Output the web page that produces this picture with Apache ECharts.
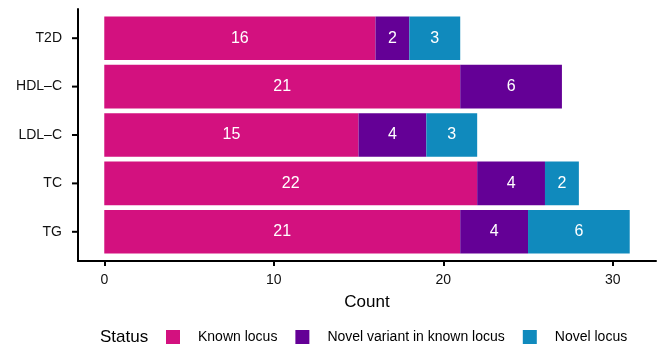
<!DOCTYPE html>
<html>
<head>
<meta charset="utf-8">
<script src="https://cdn.jsdelivr.net/npm/echarts@6/dist/echarts.min.js"></script>
<style>html,body{margin:0;padding:0;background:#fff}#c{width:659px;height:347px}</style>
</head>
<body>
<div id="c"></div>
<script>
var categories = ['T2D', 'HDL–C', 'LDL–C', 'TC', 'TG'];
var knownLocus = [16, 21, 15, 22, 21];
var novelVariant = [2, 6, 4, 4, 4];
var novelLocus = [3, 0, 3, 2, 6];
var xTicks = [0, 10, 20, 30];
var seriesNames = ['Known locus', 'Novel variant in known locus', 'Novel locus'];
var colors = ['#D3117F', '#640096', '#108ABD'];

var FONT = 'Liberation Sans';
var chart = echarts.init(document.getElementById('c'));

function mkSeries(name, data, color) {
  return {
    name: name, type: 'bar', stack: 'total', xAxisIndex: 0, yAxisIndex: 0,
    barCategoryGap: '10%',
    data: data,
    itemStyle: { color: color },
    label: {
      show: true, position: 'inside', color: '#fff', fontFamily: FONT, fontSize: 16,
      formatter: function (p) { return p.value ? String(p.value) : ''; }
    }
  };
}

chart.setOption({
  animation: false,
  color: colors,
  title: {
    text: 'Status', left: 100, top: 329, padding: 0,
    textStyle: { fontFamily: FONT, fontSize: 17, fontWeight: 'normal', color: '#000' }
  },
  legend: {
    left: 166, top: 330, padding: 0, itemWidth: 14, itemHeight: 14, itemGap: 18,
    icon: 'rect',
    data: seriesNames,
    textStyle: { fontFamily: FONT, fontSize: 14, color: '#000', padding: [0, 0, 0, 13] }
  },
  grid: [
    { left: 78, right: 3, top: 14, height: 242 },
    { left: 78, right: 3, top: 9, height: 252 },
    { left: 78, right: 3, top: 14, height: 242 }
  ],
  xAxis: [
    { gridIndex: 0, type: 'value', min: -1.55, max: 32.55, show: false },
    {
      gridIndex: 1, type: 'value', min: -1.55, max: 32.55,
      name: 'Count', nameLocation: 'middle', nameGap: 33,
      nameTextStyle: { fontFamily: FONT, fontSize: 17, color: '#000' },
      axisLine: { show: true, onZero: false, lineStyle: { color: '#000', width: 2 } },
      axisTick: { show: true, length: 5, customValues: xTicks, lineStyle: { color: '#000', width: 2 } },
      axisLabel: { customValues: xTicks, fontFamily: FONT, fontSize: 14, color: '#111', margin: 12 },
      splitLine: { show: false }
    },
    { gridIndex: 2, type: 'value', min: 0, max: 1, show: false }
  ],
  yAxis: [
    { gridIndex: 0, type: 'category', inverse: true, data: categories, show: false },
    {
      gridIndex: 1, type: 'value', min: 0, max: 1,
      axisLine: { show: true, onZero: false, lineStyle: { color: '#000', width: 2 } },
      axisTick: { show: false }, axisLabel: { show: false }, splitLine: { show: false }
    },
    {
      gridIndex: 2, type: 'category', inverse: true, data: categories,
      axisLine: { show: false },
      axisTick: { show: false },
      axisLabel: {
        margin: 0,
        formatter: function (v) { return '{n|' + v + '}{t|}'; },
        rich: {
          n: { fontFamily: FONT, fontSize: 14, color: '#111', padding: [0, 10, 0, 0], verticalAlign: 'middle' },
          t: { width: 6, height: 2, backgroundColor: '#000', verticalAlign: 'middle' }
        }
      },
      splitLine: { show: false }
    }
  ],
  series: [
    mkSeries(seriesNames[0], knownLocus, colors[0]),
    mkSeries(seriesNames[1], novelVariant, colors[1]),
    mkSeries(seriesNames[2], novelLocus, colors[2])
  ]
});
</script>
</body>
</html>
